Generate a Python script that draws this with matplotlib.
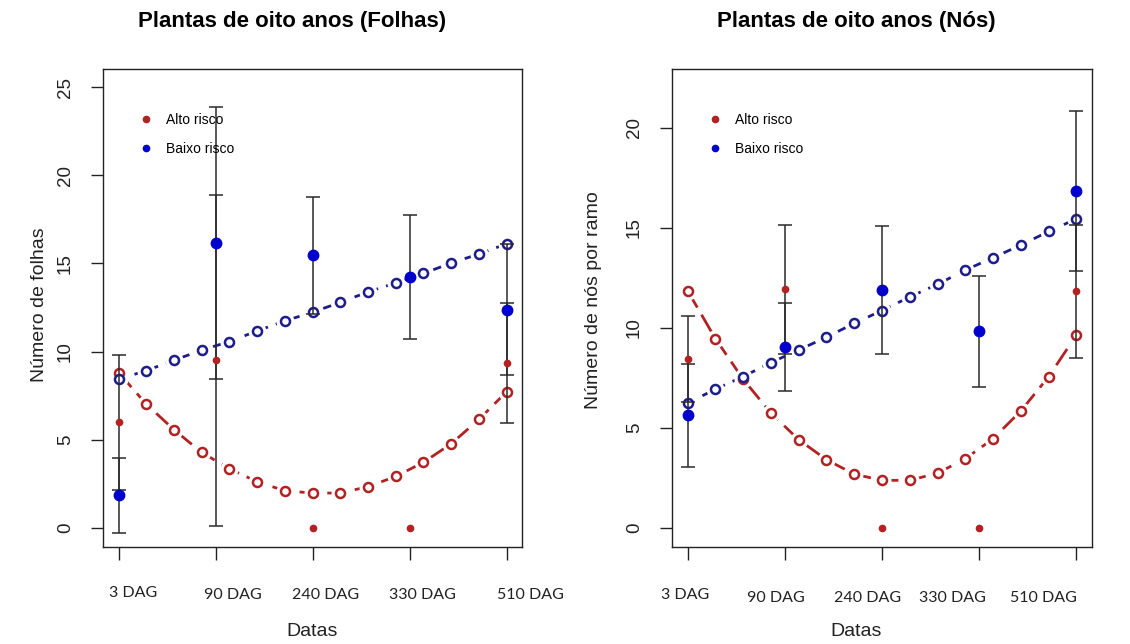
import numpy as np
import matplotlib.pyplot as plt
from matplotlib.lines import Line2D
from matplotlib.transforms import blended_transform_factory

# datas de avaliação
datas = ['3 DAG', '90 DAG', '240 DAG', '330 DAG', '510 DAG']

# número de folhas: média e desvio
folhas_alto_media = [6.0, 9.5, 0.0, 0.0, 9.35]
folhas_alto_dp = [3.83, 9.4, np.nan, np.nan, 3.4]
folhas_baixo_media = [1.85, 16.15, 15.45, 14.23, 12.38]
folhas_baixo_dp = [2.14, 7.7, 3.32, 3.5, 3.7]

# curvas ajustadas (folhas)
folhas_alto_ajuste = [8.81, 7.02, 5.57, 4.28, 3.36, 2.62, 2.11, 1.98,
                      1.98, 2.34, 2.92, 3.72, 4.77, 6.15, 7.72]
folhas_baixo_ajuste = [8.43, 8.92, 9.51, 10.08, 10.57, 11.17, 11.74, 12.23,
                       12.79, 13.38, 13.89, 14.43, 15.02, 15.53, 16.11]

# número de nós por ramo: média e desvio
nos_alto_media = [8.45, 11.92, 0.0, 0.0, 11.82]
nos_alto_dp = [2.14, 3.23, np.nan, np.nan, 3.32]
nos_baixo_media = [5.62, 9.02, 11.9, 9.82, 16.81]
nos_baixo_dp = [2.55, 2.2, 3.2, 2.76, 4.0]

# curvas ajustadas (nós)
nos_alto_ajuste = [11.85, 9.46, 7.43, 5.74, 4.41, 3.41, 2.69, 2.38,
                   2.38, 2.74, 3.46, 4.46, 5.85, 7.56, 9.64]
nos_baixo_ajuste = [6.23, 6.93, 7.56, 8.26, 8.89, 9.53, 10.22, 10.86,
                    11.54, 12.17, 12.88, 13.50, 14.13, 14.81, 15.44]

vermelho = '#B22222'
azul_linha = '#1C1C8C'
azul_ponto = '#0000CD'

plt.rcParams['font.family'] = ['Liberation Sans', 'DejaVu Sans']

x = np.arange(1, len(datas) + 1)
x_ajuste = np.linspace(1, len(datas), len(folhas_alto_ajuste))

fig = plt.figure(figsize=(11.3, 6.44), dpi=100)
ax1 = fig.add_axes([0.0912, 0.1506, 0.3708, 0.7422])
ax2 = fig.add_axes([0.5947, 0.1506, 0.3717, 0.7422])


def painel(ax, alto_m, alto_dp, baixo_m, baixo_dp, alto_aj, baixo_aj,
           ylim, yticks, desloc):
    # curvas ajustadas com pontos abertos
    ax.plot(x_ajuste, alto_aj, color=vermelho, lw=2.0,
            linestyle=(0, (7, 3)), zorder=2)
    ax.plot(x_ajuste, baixo_aj, color=azul_linha, lw=2.0,
            linestyle=(0, (3, 3)), zorder=2)
    for aj, cor in ((alto_aj, vermelho), (baixo_aj, azul_linha)):
        ax.plot(x_ajuste, aj, 'o', ms=12, mfc='white', mec='white', zorder=3)
        ax.plot(x_ajuste, aj, 'o', ms=6.5, mfc='white', mec=cor,
                mew=1.8, zorder=4)

    # barras de erro
    ax.errorbar(x, alto_m, yerr=alto_dp, fmt='none', ecolor='#2a2a2a',
                elinewidth=1.1, capsize=5, capthick=1.1, zorder=5)
    ax.errorbar(x, baixo_m, yerr=baixo_dp, fmt='none', ecolor='#2a2a2a',
                elinewidth=1.1, capsize=5, capthick=1.1, zorder=5)

    # médias
    ax.plot(x, alto_m, 'o', color=vermelho, ms=4.5, zorder=6)
    ax.plot(x, baixo_m, 'o', color=azul_ponto, ms=7.5, zorder=6)

    ax.set_xlim(0.84, 5.16)
    ax.set_ylim(*ylim)
    ax.set_xticks(x)
    ax.set_xticklabels([])
    ax.set_yticks(yticks)
    ax.tick_params(axis='both', direction='out', length=9, width=1,
                   labelsize=13.5, colors='#222222')
    ax.tick_params(axis='y', labelrotation=90, pad=12)
    for lb in ax.get_yticklabels():
        lb.set_va('center')
    for s in ax.spines.values():
        s.set_linewidth(1.0)
        s.set_color('#222222')

    # rótulos das datas
    trans = blended_transform_factory(ax.transData, fig.transFigure)
    for xi, rot, (dx, yy) in zip(x, datas, desloc):
        ax.text(xi + dx, yy, rot, transform=trans, ha='center', va='center',
                fontsize=11.5, family='Lato', color='#222222')

    handles = [Line2D([], [], ls='none', marker='o', ms=4.5, color=vermelho),
               Line2D([], [], ls='none', marker='o', ms=4.5, color=azul_ponto)]
    ax.legend(handles, ['Alto risco', 'Baixo risco'], loc='upper left',
              bbox_to_anchor=(0.055, 0.935), frameon=False, fontsize=10,
              handlelength=1.0, handletextpad=1.0, labelspacing=1.1)


painel(ax1, folhas_alto_media, folhas_alto_dp, folhas_baixo_media,
       folhas_baixo_dp, folhas_alto_ajuste, folhas_baixo_ajuste,
       (-1.08, 26.02), [0, 5, 10, 15, 20, 25],
       [(0.155, 0.079), (0.175, 0.076), (0.13, 0.076), (0.13, 0.076),
        (0.25, 0.076)])
painel(ax2, nos_alto_media, nos_alto_dp, nos_baixo_media,
       nos_baixo_dp, nos_alto_ajuste, nos_baixo_ajuste,
       (-0.95, 22.92), [0, 5, 10, 15, 20],
       [(-0.03, 0.076), (-0.09, 0.072), (-0.15, 0.072), (-0.28, 0.072),
        (-0.34, 0.072)])

# títulos e rótulos dos eixos
fig.text(292 / 1130, 1 - 22 / 644, 'Plantas de oito anos (Folhas)',
         ha='center', va='center', fontsize=16, fontweight='bold')
fig.text(856 / 1130, 1 - 22 / 644, 'Plantas de oito anos (Nós)',
         ha='center', va='center', fontsize=16, fontweight='bold')
fig.text(312 / 1130, 1 - 632 / 644, 'Datas', ha='center', va='center',
         fontsize=14, color='#222222')
fig.text(856 / 1130, 1 - 632 / 644, 'Datas', ha='center', va='center',
         fontsize=14, color='#222222')
fig.text(40 / 1130, 1 - 305 / 644, 'Número de folhas', rotation=90,
         ha='center', va='center', fontsize=14, color='#222222')
fig.text(593 / 1130, 1 - 300 / 644, 'Número de nós por ramo', rotation=90,
         ha='center', va='center', fontsize=14, color='#222222')

fig.savefig('out.png', dpi=100)
